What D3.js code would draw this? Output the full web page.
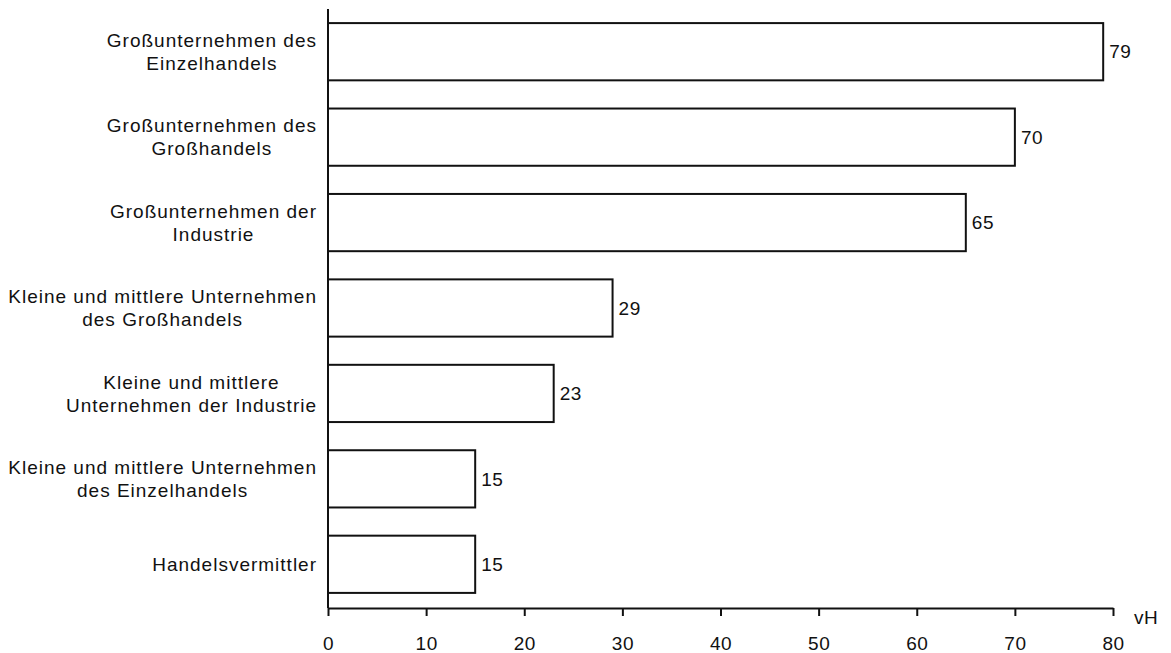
<!DOCTYPE html>
<html>
<head>
<meta charset="utf-8">
<script src="https://cdn.jsdelivr.net/npm/d3@7"></script>
<style>
  body { margin: 0; background: #fff; }
  svg { font-family: "Liberation Sans", Arial, sans-serif; }
  text { fill: #111; }
</style>
</head>
<body>
<svg id="chart" width="1171" height="653"></svg>
<script>
const categories = [
  ['Großunternehmen des', 'Einzelhandels'],
  ['Großunternehmen des', 'Großhandels'],
  ['Großunternehmen der', 'Industrie'],
  ['Kleine und mittlere Unternehmen', 'des Großhandels'],
  ['Kleine und mittlere', 'Unternehmen der Industrie'],
  ['Kleine und mittlere Unternehmen', 'des Einzelhandels'],
  ['Handelsvermittler']
]
const values = [79, 70, 65, 29, 23, 15, 15]
const xTicks = [0, 10, 20, 30, 40, 50, 60, 70, 80]
const unit = 'vH'

const svg = d3.select('#chart')
const x = d3.scaleLinear().domain([0, 80]).range([328, 1113])
const y = d3.scaleBand().domain(d3.range(values.length)).range([9, 607])
  .paddingInner(0.33).paddingOuter(0.165)

const ink = '#111'
const fs = 19

// bars
svg.append('g').selectAll('rect').data(values).join('rect')
  .attr('x', x(0))
  .attr('y', (d, i) => y(i))
  .attr('width', d => x(d) - x(0))
  .attr('height', y.bandwidth())
  .attr('fill', '#fff')
  .attr('stroke', ink)
  .attr('stroke-width', 2)

// value labels
svg.append('g').selectAll('text').data(values).join('text')
  .attr('x', d => x(d) + 6)
  .attr('y', (d, i) => y(i) + y.bandwidth() / 2)
  .attr('dy', '0.35em')
  .attr('font-size', fs)
  .attr('letter-spacing', 0.5)
  .text(d => d)

// category labels: block centred, right edge near axis
const labelRight = 317
const lineH = 23
categories.forEach((lines, i) => {
  const g = svg.append('g')
  const cy = y(i) + y.bandwidth() / 2
  const ts = lines.map((ln, k) => g.append('text')
    .attr('font-size', fs)
    .attr('letter-spacing', 1)
    .attr('text-anchor', 'middle')
    .attr('y', cy + (k - (lines.length - 1) / 2) * lineH)
    .attr('dy', '0.35em')
    .text(ln))
  const w = d3.max(ts, t => t.node().getComputedTextLength())
  ts.forEach(t => t.attr('x', labelRight - w / 2))
})

// y axis line
svg.append('line')
  .attr('x1', x(0)).attr('x2', x(0))
  .attr('y1', 9).attr('y2', 608)
  .attr('stroke', ink).attr('stroke-width', 2)

// x axis
const xAxis = svg.append('g')
  .attr('transform', 'translate(0,608)')
  .call(d3.axisBottom(x).tickValues(xTicks).tickSize(8).tickPadding(21).tickSizeOuter(0))
xAxis.select('.domain').attr('stroke', ink).attr('stroke-width', 2)
xAxis.selectAll('.tick line').attr('stroke', ink).attr('stroke-width', 2)
xAxis.selectAll('.tick text')
  .attr('font-size', fs)
  .attr('letter-spacing', 0.5)
  .attr('font-family', '"Liberation Sans", Arial, sans-serif')
  .attr('fill', ink)

svg.append('text')
  .attr('x', 1134)
  .attr('y', 617)
  .attr('dy', '0.35em')
  .attr('font-size', fs)
  .attr('letter-spacing', 0.5)
  .text(unit)
</script>
</body>
</html>
